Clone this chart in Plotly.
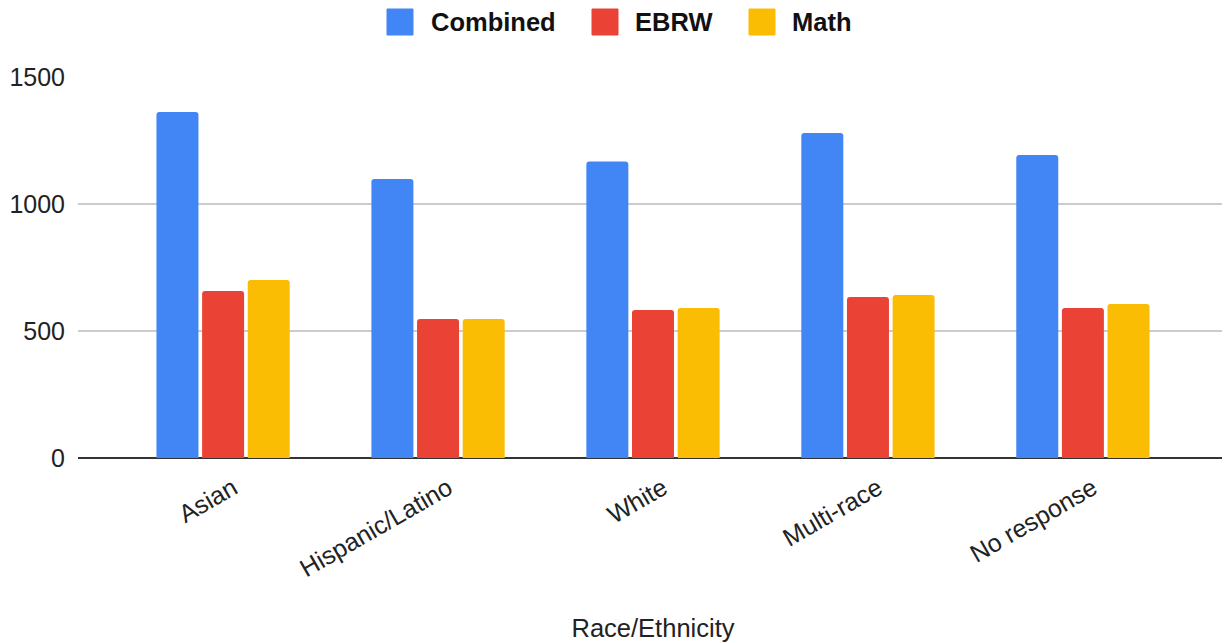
import plotly.graph_objects as go

groups = ["Asian", "Hispanic/Latino", "White", "Multi-race", "No response"]
combined = [1362, 1098, 1167, 1280, 1193]
ebrw = [657, 547, 583, 634, 591]
math = [701, 547, 591, 642, 606]

series = [
    ("Combined", combined, "#4285F4"),
    ("EBRW", ebrw, "#EA4335"),
    ("Math", math, "#FBBC04"),
]

FONT = "Arial, Liberation Sans, sans-serif"

fig = go.Figure()
for name, vals, color in series:
    fig.add_trace(go.Bar(
        x=groups, y=vals, name=name, showlegend=False,
        marker=dict(color=color, line_width=0, cornerradius=3),
    ))

# legend drawn by hand so the swatches match the big rounded squares
legend_pos = [(387, 431), (592, 635), (749, 792)]
for (name, _, color), (sx, tx) in zip(series, legend_pos):
    fig.add_shape(type="rect", xref="paper", yref="paper",
                  x0=(sx - 78) / 1150, x1=(sx + 26 - 78) / 1150,
                  y0=1 + (77 - 35) / 381, y1=1 + (77 - 9) / 381,
                  fillcolor=color, line=dict(color=color, width=1))
    fig.add_annotation(text=f"<b>{name}</b>", xref="paper", yref="paper",
                       x=(tx - 80) / 1150, y=1 + (77 - 22) / 381,
                       xanchor="left", yanchor="middle", showarrow=False,
                       font=dict(size=25.5, color="#111111"))

# page body has an 8px margin, so the figure is shrunk and offset to match
fig.update_layout(
    width=1222, height=635,
    paper_bgcolor="white", plot_bgcolor="white",
    font=dict(family=FONT, size=25, color="#222222"),
    margin=dict(l=70, r=2, t=69, b=185),
    barmode="group", bargap=0.363, bargroupgap=0.08,
    showlegend=False,
    xaxis=dict(
        range=[-0.675, 4.675], tickangle=-30, showgrid=False, automargin=False,
        title=dict(text="Race/Ethnicity", font=dict(size=25.5), standoff=38),
        tickfont=dict(size=25), ticks="",
        ticklabelstandoff=10, ticklabelshift=10,
    ),
    yaxis=dict(
        range=[0, 1500], tickvals=[0, 500, 1000, 1500], automargin=False,
        gridcolor="#cccccc", gridwidth=2,
        zeroline=True, zerolinecolor="#333333", zerolinewidth=2,
        tickfont=dict(size=25), ticks="", ticklabelstandoff=12,
    ),
)

fig.write_html("out.html")
